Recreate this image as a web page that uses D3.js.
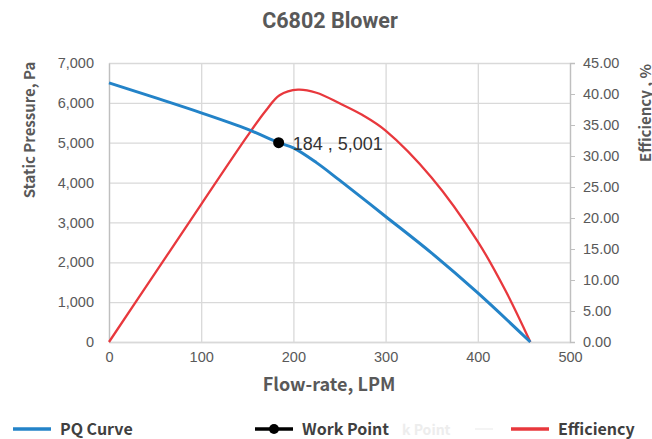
<!DOCTYPE html>
<html><head><meta charset="utf-8">
<script src="https://cdn.jsdelivr.net/npm/d3@7"></script>
<style>body{margin:0;background:#fff}svg{display:block}</style>
</head><body>
<svg id="c" width="652" height="439"></svg>
<script>
const title = "C6802 Blower";
const xTicks = [0,100,200,300,400,500];
const yLeftTicks = [0,1000,2000,3000,4000,5000,6000,7000];
const yRightTicks = [0,5,10,15,20,25,30,35,40,45];
const pqFlow =     [0,   50,  100, 150, 184, 200, 225, 250, 300, 350, 400, 457];
const pqPressure = [6500,6130,5750,5340,5001,4870,4500,4060,3150,2230,1230,0];
const effFlow =    [0, 50,  100, 150, 170, 185, 205, 225, 250, 275, 300, 350, 400, 430, 457];
const effValue =   [0, 11.1,22.2,33.2,37.3,39.8,40.7,40.2,38.5,36.6,34.1,26.5,16.2,8.3, 0];
const workPoint = [184, 5001];
const legendNames = ["PQ Curve","Work Point","Efficiency"];

const svg = d3.select("#c");
const L=109,R=570,T=63,B=342;
const x = d3.scaleLinear().domain([0,500]).range([L,R]);
const y = d3.scaleLinear().domain([0,7000]).range([B,T]);
const y2 = d3.scaleLinear().domain([0,45]).range([B,T]);
const grid="#d9d9d9", txt="#595959";

// gridlines
svg.append("g").selectAll("line").data(yLeftTicks).join("line")
  .attr("x1",L).attr("x2",R).attr("y1",d=>y(d)+0.5).attr("y2",d=>y(d)+0.5)
  .attr("stroke",grid).attr("stroke-width",1.3);
svg.append("g").selectAll("line").data(xTicks).join("line")
  .attr("x1",d=>x(d)+0.5).attr("x2",d=>x(d)+0.5).attr("y1",T).attr("y2",B)
  .attr("stroke",grid).attr("stroke-width",1.3);

// axes
const gx = svg.append("g").attr("transform",`translate(0,${B})`)
  .call(d3.axisBottom(x).tickValues(xTicks).tickSize(0).tickPadding(10));
const gy = svg.append("g").attr("transform",`translate(${L},0)`)
  .call(d3.axisLeft(y).tickValues(yLeftTicks).tickSize(0).tickPadding(15).tickFormat(d3.format(",")));
const gy2 = svg.append("g").attr("transform",`translate(${R},0)`)
  .call(d3.axisRight(y2).tickValues(yRightTicks).tickSize(5).tickPadding(8).tickFormat(d3.format(".2f")));
[gx,gy,gy2].forEach(g=>{
  g.select(".domain").attr("stroke","#bfbfbf").attr("stroke-width",1.3);
  g.selectAll(".tick line").attr("stroke","#bfbfbf");
  g.selectAll("text").attr("fill",txt).style("font-family","'Liberation Sans',Arial,sans-serif").style("font-size","14.5px");
});
gx.select(".domain").attr("stroke",grid);

// lines
const pq = pqFlow.map((f,i)=>[f,pqPressure[i]]);
const ef = effFlow.map((f,i)=>[f,effValue[i]]);
svg.append("path").datum(ef).attr("fill","none").attr("stroke","#e8383d").attr("stroke-width",2.3)
  .attr("d",d3.line().x(d=>x(d[0])).y(d=>y2(d[1])).curve(d3.curveCatmullRom.alpha(0.5)));
svg.append("path").datum(pq).attr("fill","none").attr("stroke","#2383c8").attr("stroke-width",3)
  .attr("d",d3.line().x(d=>x(d[0])).y(d=>y(d[1])).curve(d3.curveCatmullRom.alpha(0.5)));

// work point
svg.append("circle").attr("cx",x(workPoint[0])).attr("cy",y(workPoint[1])).attr("r",5.5).attr("fill","#000");
svg.append("text").attr("x",x(workPoint[0])+14).attr("y",y(workPoint[1])+7)
  .attr("fill","#333").style("font-family","'Liberation Sans',Arial,sans-serif").style("font-size","18px")
  .text(d3.format(",")(workPoint[0])+" , "+d3.format(",")(workPoint[1]));

// titles
svg.append("text").attr("x",330).attr("y",28).attr("text-anchor","middle").attr("fill",txt)
  .style("font-family","Roboto,sans-serif").style("font-size","21.5px").style("font-weight","bold").text(title);
const tf = "'Noto Sans CJK SC','Noto Sans',sans-serif";
svg.append("text").attr("x",329).attr("y",391).attr("text-anchor","middle").attr("fill",txt)
  .style("font-family",tf).style("font-size","18px").style("font-weight","bold").text("Flow-rate, LPM");
svg.append("text").attr("transform","translate(35,130) rotate(-90)").attr("text-anchor","middle").attr("fill",txt)
  .style("font-family",tf).style("font-size","15px").style("font-weight","bold").text("Static Pressure, Pa");
svg.append("text").attr("transform","translate(651,113) rotate(-90)").attr("text-anchor","middle").attr("fill",txt)
  .style("font-family",tf).style("font-size","15px").style("font-weight","bold").text("Efficiency , %");

// legend
svg.append("text").attr("x",402).attr("y",435).attr("fill","#ededed")
  .style("font-family",tf).style("font-size","14px").style("font-weight","bold").text("k Point");
svg.append("line").attr("x1",475).attr("x2",493).attr("y1",429).attr("y2",429).attr("stroke","#f4f4f4").attr("stroke-width",2);
const lg = svg.append("g").style("font-family",tf).style("font-size","16px").style("font-weight","bold");
const items = [{x:13,c:"#2383c8",dot:false},{x:255,c:"#000",dot:true},{x:511,c:"#e8383d",dot:false}];
items.forEach((it,i)=>{
  lg.append("line").attr("x1",it.x).attr("x2",it.x+38).attr("y1",429).attr("y2",429).attr("stroke",it.c).attr("stroke-width",3.5);
  if(it.dot) lg.append("circle").attr("cx",it.x+19).attr("cy",429).attr("r",5).attr("fill","#000");
  lg.append("text").attr("x",it.x+47).attr("y",435).attr("fill","#404040").text(legendNames[i]);
});
</script>
</body></html>
